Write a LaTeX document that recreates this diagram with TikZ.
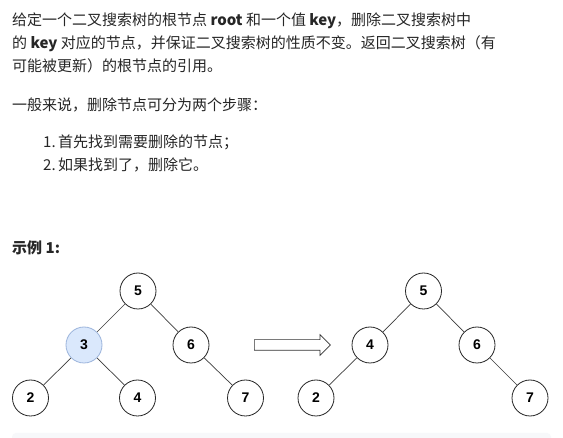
\documentclass[tikz,border=0pt]{standalone}
\usepackage{fontspec}
\setmainfont{Noto Sans CJK SC}
\newfontfamily\numfont{Liberation Sans}
\usetikzlibrary{shapes.arrows}
\definecolor{txt}{RGB}{38,38,38}
\definecolor{hlfill}{HTML}{DAE8FC}
\definecolor{hldraw}{HTML}{9DB5DC}
\definecolor{band}{HTML}{F7F8FA}
\definecolor{edge}{RGB}{60,60,60}
\begin{document}
\begin{tikzpicture}[x=1pt,y=-1pt,
  para/.style={anchor=base west,inner sep=0pt,text=txt,font=\fontsize{15}{23}\selectfont},
  tnode/.style={circle,draw=black!85,line width=0.8pt,minimum size=36pt,inner sep=0pt,fill=white,font=\numfont\bfseries\fontsize{14}{14}\selectfont},
  hl/.style={fill=hlfill,draw=hldraw},
  tedge/.style={draw=edge,line width=0.7pt},
  blockarrow/.style={single arrow,draw=black!80,fill=white,line width=0.7pt,text height=0pt,text depth=0pt,text width=0pt,inner xsep=0pt,inner ysep=5pt,minimum height=76pt,single arrow head extend=5pt,single arrow tip angle=90}]
\useasboundingbox (0,0) rectangle (563,438);
\fill[white] (0,0) rectangle (563,438);
% text
\node[para] (l1) at (12,26) {给定一个二叉搜索树的根节点 \textbf{root} 和一个值 \textbf{key}，删除二叉搜索树中};
\node[para] (l2) at (12,49) {的 \textbf{key} 对应的节点，并保证二叉搜索树的性质不变。返回二叉搜索树（有};
\node[para] (l3) at (12,72) {可能被更新）的根节点的引用。};
\node[para] (l4) at (12,111) {一般来说，删除节点可分为两个步骤：};
\node[para] (n1) at (43,148) {1.};
\node[para] (i1) at (58,148) {首先找到需要删除的节点；};
\node[para] (n2) at (43,171) {2.};
\node[para] (i2) at (58,171) {如果找到了，删除它。};
\node[para,font=\bfseries\fontsize{15}{23}\selectfont] (ex) at (12,254) {示例 1:};
% left tree
\node[tnode] (a5) at (138,291) {5};
\node[tnode,hl] (a3) at (84,345) {3};
\node[tnode] (a6) at (191,345) {6};
\node[tnode] (a2) at (30.5,398) {2};
\node[tnode] (a4) at (137.5,398) {4};
\node[tnode] (a7) at (245.5,398) {7};
\draw[tedge] (a5) -- (a3);
\draw[tedge] (a5) -- (a6);
\draw[tedge] (a3) -- (a2);
\draw[tedge] (a3) -- (a4);
\draw[tedge] (a6) -- (a7);
% arrow
\node[blockarrow,anchor=west] (arr) at (254,345) {};
% right tree
\node[tnode] (b5) at (423.5,291) {5};
\node[tnode] (b4) at (370,345) {4};
\node[tnode] (b6) at (477,345) {6};
\node[tnode] (b2) at (316,398) {2};
\node[tnode] (b7) at (530,398) {7};
\draw[tedge] (b5) -- (b4);
\draw[tedge] (b5) -- (b6);
\draw[tedge] (b4) -- (b2);
\draw[tedge] (b6) -- (b7);
% bottom band
\fill[band,rounded corners=4pt] (12,433) rectangle (551,446);
\end{tikzpicture}
\end{document}
